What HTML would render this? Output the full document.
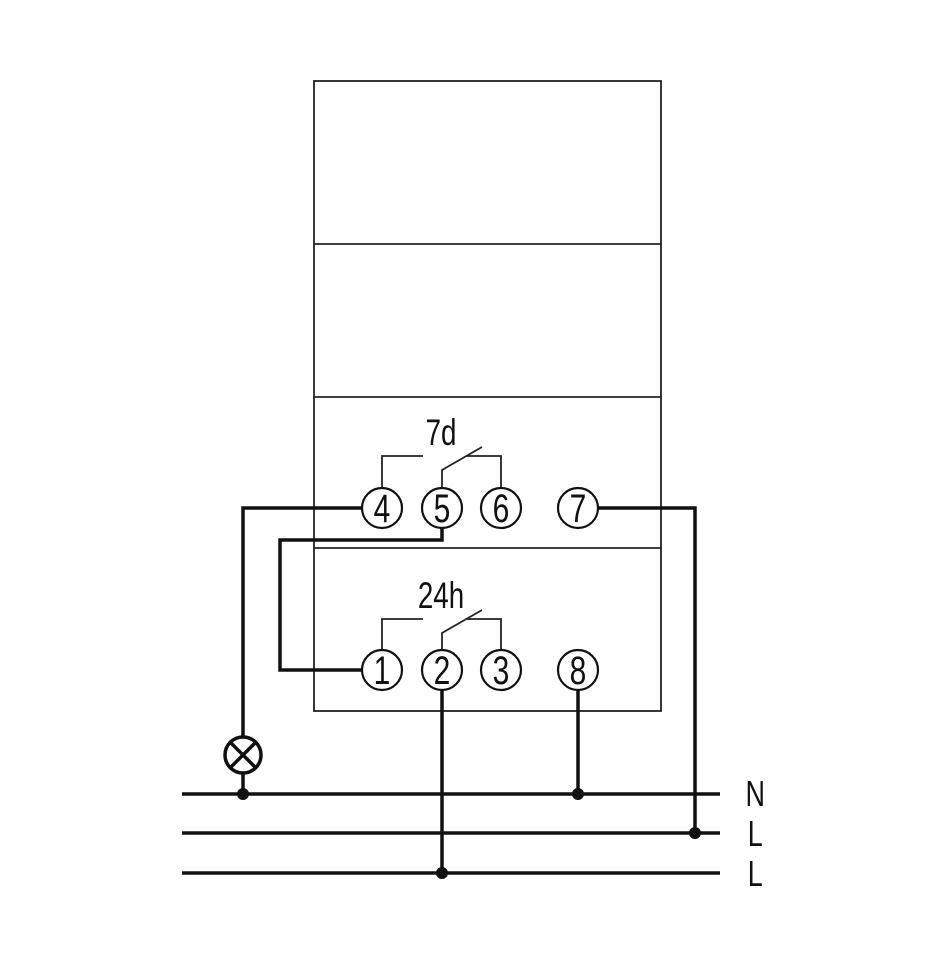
<!DOCTYPE html>
<html><head><style>html,body{margin:0;padding:0;background:#fff}</style></head>
<body>
<svg width="950" height="950" viewBox="0 0 950 950" xmlns="http://www.w3.org/2000/svg">
<g fill="none" stroke="#222" stroke-width="1.8">
<rect x="314" y="81" width="347" height="630"/>
<line x1="314" y1="244" x2="661" y2="244"/>
<line x1="314" y1="397" x2="661" y2="397"/>
<line x1="314" y1="548" x2="661" y2="548"/>
<polyline points="382,488 382,456 423,456"/>
<polyline points="442,488 442,470 482,447"/>
<polyline points="466,456 501,456 501,488"/>
<polyline points="382,650 382,619 423,619"/>
<polyline points="442,650 442,633 482,610"/>
<polyline points="466,619 501,619 501,650"/>
</g>
<g fill="#fff" stroke="#111" stroke-width="2.2">
<circle cx="382" cy="508" r="20"/><circle cx="442" cy="508" r="20"/><circle cx="501" cy="508" r="20"/><circle cx="578" cy="508" r="20"/>
<circle cx="382" cy="670" r="20"/><circle cx="442" cy="670" r="20"/><circle cx="501" cy="670" r="20"/><circle cx="578" cy="670" r="20"/>
</g>
<g fill="none" stroke="#111" stroke-width="3.5">
<polyline points="362,508 243,508 243,737"/>
<line x1="243" y1="773" x2="243" y2="794"/>
<polyline points="442,528 442,540 280,540 280,670 362,670"/>
<polyline points="598,508 695,508 695,833"/>
<line x1="442" y1="690" x2="442" y2="873"/>
<line x1="578" y1="690" x2="578" y2="794"/>
<line x1="182" y1="794" x2="720" y2="794"/>
<line x1="182" y1="833" x2="720" y2="833"/>
<line x1="182" y1="873" x2="720" y2="873"/>
<circle cx="243" cy="755" r="18" fill="#fff"/>
<line x1="230" y1="742" x2="256" y2="768"/>
<line x1="256" y1="742" x2="230" y2="768"/>
</g>
<g fill="#111">
<circle cx="243" cy="794" r="6"/><circle cx="578" cy="794" r="6"/><circle cx="695" cy="833" r="6"/><circle cx="442" cy="873" r="6"/>
</g>
<g font-family="Liberation Sans, sans-serif" fill="#111" font-size="40" text-anchor="middle">
<g transform="scale(0.75,1)">
<text x="509.3" y="522">4</text><text x="589.3" y="522">5</text><text x="668" y="522">6</text><text x="770.7" y="522">7</text>
<text x="509.3" y="684">1</text><text x="589.3" y="684">2</text><text x="668" y="684">3</text><text x="770.7" y="684">8</text>
<text x="588" y="445" font-size="37">7d</text>
<text x="588" y="608" font-size="37">24h</text>
<text x="1007" y="806" font-size="36">N</text>
<text x="1007" y="846" font-size="36">L</text>
<text x="1007" y="886" font-size="36">L</text>
</g>
</g>
</svg>
</body></html>
